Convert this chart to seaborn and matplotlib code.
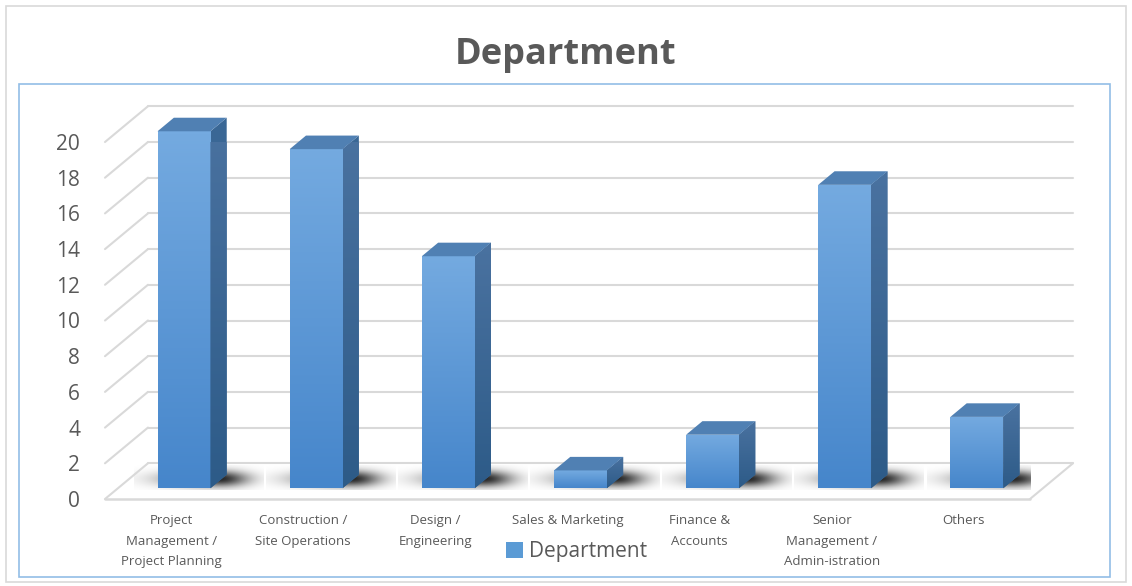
import matplotlib
matplotlib.use("Agg")
import matplotlib.pyplot as plt
import matplotlib.transforms as mtransforms
from matplotlib.patches import Polygon, Rectangle, Patch
from matplotlib.colors import LinearSegmentedColormap
import numpy as np
import seaborn as sns

categories = ["Project\nManagement /\nProject Planning", "Construction /\nSite Operations",
              "Design /\nEngineering", "Sales & Marketing", "Finance &\nAccounts",
              "Senior\nManagement /\nAdmin-istration", "Others"]
values = [20, 19, 13, 1, 3, 17, 4]
yticks = list(range(0, 21, 2))
title = "Department"
series_name = "Department"

sns.set_theme(style="white")
plt.rcParams["font.family"] = ["Open Sans", "DejaVu Sans"]
TXT = "#595959"
GRID = "#D9D9D9"

W, H = 1132, 586
fig = plt.figure(figsize=(W / 100, H / 100), dpi=100)
fig.patch.set_facecolor("white")

# frames
fig.add_artist(Rectangle((6 / W, 1 - 582 / H), 1120 / W, 576 / H, transform=fig.transFigure,
                         fill=False, edgecolor="#D9D9D9", linewidth=1.2))
fig.add_artist(Rectangle((19 / W, 1 - 577 / H), 1091 / W, 493 / H, transform=fig.transFigure,
                         fill=False, edgecolor="#92BDE6", linewidth=1.2))

ax = fig.add_axes([105 / W, 1 - 499 / H, 925 / W, 357 / H])
ax.set_facecolor("none")

DX, DY = 0.325, 2.0        # wall depth in data units
F0, F1 = 0.30, 0.68        # bar front / back depth fraction
ox, oy = F0 * DX, F0 * DY
bdx, bdy = (F1 - F0) * DX, (F1 - F0) * DY

sns.barplot(x=categories, y=values, width=0.4, color="#5B9BD5", ax=ax,
            zorder=3, linewidth=0)
ax.set_xlim(-0.5, len(categories) - 0.5)
ax.set_ylim(0, 20)

xl, xr = -0.5, len(categories) - 0.5
for v in yticks:
    ax.plot([xl + DX, xr + DX], [v + DY, v + DY], color=GRID, lw=1.5, clip_on=False, zorder=0.5)
    ax.plot([xl, xl + DX], [v, v + DY], color=GRID, lw=1.5, clip_on=False, zorder=0.5)
ax.plot([xl, xr], [0, 0], color=GRID, lw=1.8, clip_on=False, zorder=0.6)
ax.plot([xr, xr + DX], [0, DY], color=GRID, lw=1.5, clip_on=False, zorder=0.6)

off = mtransforms.Affine2D().translate(ox, oy) + ax.transData
grad = np.linspace(0, 1, 100).reshape(-1, 1)
cm_front = LinearSegmentedColormap.from_list("f", ["#74AAE0", "#4686CB"])
cm_side = LinearSegmentedColormap.from_list("s", ["#4A72A0", "#2D5B88"])

# blurred shadow sprite (rows top->bottom)
uu, vv = np.meshgrid(np.linspace(0, 1, 200), np.linspace(1, 0, 60))
su = np.where(uu < 0.66, 0.40, 0.22)
alpha = 0.85 * np.exp(-((uu - 0.66) / su) ** 2 - ((vv - 0.45) / 0.32) ** 2)
shadow = np.zeros(uu.shape + (4,))
shadow[..., 3] = np.clip(alpha, 0, 1)

for p in list(ax.patches):
    x0, w, h = p.get_x(), p.get_width(), p.get_height()
    p.set_transform(off)
    p.set_clip_on(False)
    ax.imshow(shadow, aspect="auto", interpolation="bilinear", interpolation_stage="rgba",
              zorder=0.3, extent=[x0 + ox - 0.18, x0 + w + ox + 0.40, 0.5, 1.85])
    im = ax.imshow(grad, cmap=cm_front, aspect="auto",
                   extent=[x0 + ox, x0 + w + ox, oy, h + oy], zorder=3.1,
                   interpolation="bilinear")
    im.set_clip_path(p)
    side = [(x0 + w, 0), (x0 + w + bdx, bdy), (x0 + w + bdx, h + bdy), (x0 + w, h)]
    sp = Polygon(side, closed=True, facecolor="#3A6795", edgecolor="none",
                 transform=off, zorder=3, clip_on=False)
    ax.add_patch(sp)
    ims = ax.imshow(grad, cmap=cm_side, aspect="auto",
                    extent=[x0 + w + ox, x0 + w + bdx + ox, oy, h + bdy + oy], zorder=3.1,
                    interpolation="bilinear")
    ims.set_clip_path(sp)
    top = [(x0, h), (x0 + w, h), (x0 + w + bdx, h + bdy), (x0 + bdx, h + bdy)]
    ax.add_patch(Polygon(top, closed=True, facecolor="#5080B3", edgecolor="none",
                         transform=off, zorder=3.2, clip_on=False))

ax.set_xlim(-0.5, len(categories) - 0.5)
ax.set_ylim(0, 20)
ax.set_yticks(yticks)
ax.set_yticklabels([str(v) for v in yticks], fontsize=15, color=TXT)
ax.tick_params(axis="y", length=0, pad=18)
ax.tick_params(axis="x", length=0, pad=11)
for lab in ax.get_xticklabels():
    lab.set_fontsize(9.5)
    lab.set_color(TXT)
    lab.set_linespacing(1.75)
    lab.set_verticalalignment("top")
ax.set_xlabel("")
ax.set_ylabel("")
for s in ax.spines.values():
    s.set_visible(False)

fig.text(566 / W, 1 - 55 / H, title, ha="center", va="center", fontsize=26,
         fontweight="bold", color=TXT)
fig.legend(handles=[Patch(facecolor="#5B9BD5", edgecolor="none")], labels=[series_name],
           loc="center", bbox_to_anchor=(577 / W, 1 - 552 / H), frameon=False,
           handlelength=0.8, handleheight=0.8, handletextpad=0.3, fontsize=15,
           labelcolor=TXT)

fig.savefig("out.png", dpi=100)
